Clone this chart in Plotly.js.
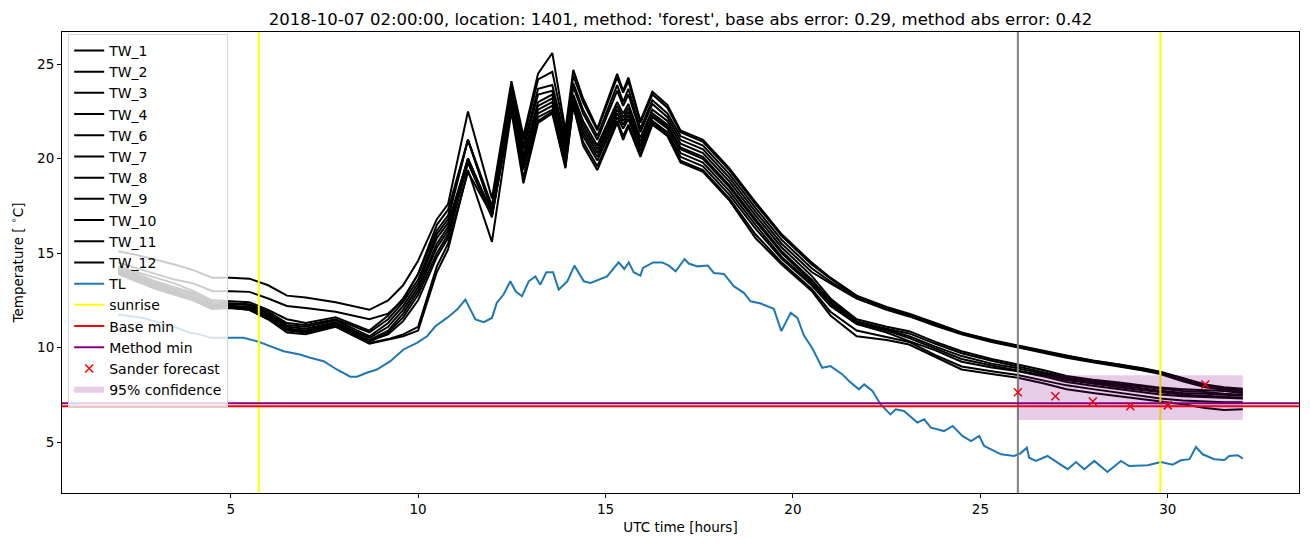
<!DOCTYPE html>
<html>
<head>
<meta charset="utf-8">
<script src="https://cdn.plot.ly/plotly-3.0.1.min.js"></script>
<style>
  body { margin: 0; background: #fff; }
  #myPlot { width: 1310px; height: 547px; }
</style>
</head>
<body>
<div id="myPlot"></div>
<script>
// time axis of the water temperature loggers (hours UTC from 2018-10-07 00:00)
const twTime = [2, 2.5, 3, 3.5, 4, 4.5, 5, 5.5, 6, 6.5, 7, 7.8, 8.7, 9.2, 9.6, 10, 10.5, 10.8, 11.33,
  11.97, 12.49, 12.81, 13.2, 13.58, 13.93, 14.14, 14.4, 14.78, 15.31, 15.47, 15.61, 15.93, 16.25, 16.65, 17.0, 17.6, 18.3, 19.0, 19.7, 20.5,
  21.0, 21.7, 22.5, 23.1, 23.8, 24.5, 25.3, 26.0, 26.7, 27.3, 28.0, 28.7, 29.3, 29.8, 30.4, 31.0, 31.5, 32.0];

const twNames = ["TW_1", "TW_2", "TW_3", "TW_4", "TW_6", "TW_7", "TW_8", "TW_9", "TW_10", "TW_11", "TW_12"];

const tw1 = [15.1, 14.9, 14.65, 14.4, 14.1, 13.7, 13.7, 13.65, 13.3, 12.75, 12.65, 12.4, 12.0, 12.5, 13.3, 14.6, 16.8, 17.6, 22.5,
  17.9, 24.1, 21.2, 24.5, 25.6, 21.5, 24.7, 23.2, 21.6, 24.5, 23.6, 24.3, 22.0, 23.55, 22.85, 21.5, 21.0, 19.5, 17.7, 16.0, 14.5,
  13.7, 12.75, 12.15, 11.8, 11.3, 10.8, 10.4, 10.1, 9.8, 9.58, 9.32, 9.12, 8.92, 8.72, 8.4, 8.05, 7.9, 7.82];
const tw2 = [14.5, 14.2, 13.9, 13.6, 13.4, 13.0, 12.98, 12.95, 12.6, 12.2, 12.1, 11.9, 11.5, 11.8, 12.5, 13.9, 16.5, 17.3, 21.0,
  17.5, 23.9, 21.0, 24.2, 24.6, 21.3, 24.4, 23.0, 21.5, 24.3, 23.5, 24.1, 21.9, 23.4, 22.7, 21.4, 20.9, 19.4, 17.6, 15.9, 14.4,
  13.65, 12.7, 12.1, 11.75, 11.25, 10.78, 10.38, 10.07, 9.77, 9.55, 9.3, 9.1, 8.9, 8.7, 8.38, 8.0, 7.85, 7.75];
const tw3 = [14.3, 14.0, 13.7, 13.4, 13.0, 12.5, 12.45, 12.4, 12.0, 11.5, 11.3, 11.6, 10.9, 11.7, 12.6, 13.9, 16.2, 17.0, 21.0,
  17.3, 23.6, 20.7, 23.7, 23.9, 21.0, 24.0, 22.6, 21.2, 23.9, 23.0, 23.7, 21.6, 23.1, 22.4, 21.2, 20.7, 19.2, 17.4, 15.7, 14.2,
  13.5, 12.65, 12.05, 11.7, 11.2, 10.74, 10.34, 10.03, 9.74, 9.5, 9.26, 9.05, 8.85, 8.65, 8.3, 7.95, 7.8, 7.68];
const tw4 = [14.2, 13.9, 13.5, 13.2, 12.9, 12.4, 12.35, 12.3, 11.9, 11.3, 11.2, 11.5, 10.8, 11.5, 12.4, 13.6, 16.0, 16.8, 21.0,
  17.2, 23.4, 20.5, 23.4, 23.6, 20.8, 23.8, 22.4, 21.0, 23.6, 22.8, 23.4, 21.4, 22.9, 22.2, 21.0, 20.5, 19.0, 17.2, 15.5, 14.0,
  13.4, 12.6, 12.0, 11.65, 11.15, 10.7, 10.3, 10.0, 9.7, 9.46, 9.22, 9.0, 8.8, 8.6, 8.22, 7.9, 7.75, 7.6];
const tw6 = [14.1, 13.8, 13.4, 13.1, 12.8, 12.3, 12.3, 12.25, 11.8, 11.2, 11.1, 11.45, 10.6, 11.3, 12.2, 13.4, 15.8, 16.6, 20.0,
  17.1, 23.2, 20.2, 23.0, 23.4, 20.5, 23.4, 22.0, 20.7, 23.0, 22.4, 22.9, 21.1, 22.6, 22.0, 20.8, 20.3, 18.8, 17.0, 15.3, 13.8,
  12.6, 11.5, 11.1, 10.87, 10.3, 9.81, 9.4, 9.1, 8.8, 8.5, 8.3, 8.15, 8.0, 7.88, 7.8, 7.75, 7.7, 7.6];
const tw7 = [14.0, 13.7, 13.3, 13.0, 12.7, 12.2, 12.2, 12.15, 11.7, 11.1, 11.0, 11.35, 10.5, 11.1, 12.0, 13.2, 15.5, 16.4, 20.0,
  17.0, 23.0, 20.0, 22.8, 23.2, 20.3, 23.2, 21.8, 20.5, 22.8, 22.2, 22.7, 20.9, 22.4, 21.8, 20.6, 20.1, 18.6, 16.8, 15.1, 13.6,
  12.5, 11.4, 11.0, 10.75, 10.2, 9.7, 9.3, 9.0, 8.7, 8.42, 8.22, 8.07, 7.92, 7.8, 7.7, 7.65, 7.55, 7.5];
const tw8 = [13.95, 13.6, 13.2, 12.9, 12.6, 12.1, 12.15, 12.1, 11.6, 11.0, 10.9, 11.3, 10.4, 10.9, 11.8, 13.0, 15.3, 16.2, 20.0,
  17.1, 22.9, 19.8, 22.6, 23.0, 20.1, 23.0, 21.6, 20.3, 22.6, 22.0, 22.5, 20.7, 22.3, 21.7, 20.5, 20.0, 18.5, 16.7, 15.0, 13.5,
  12.4, 11.35, 10.95, 10.6, 10.05, 9.55, 9.15, 8.9, 8.6, 8.35, 8.15, 8.0, 7.85, 7.72, 7.6, 7.55, 7.5, 7.45];
const tw9 = [13.9, 13.5, 13.1, 12.8, 12.5, 12.05, 12.1, 12.0, 11.5, 10.9, 10.8, 11.2, 10.3, 10.8, 11.6, 12.8, 15.0, 16.0, 19.8,
  17.0, 22.8, 19.6, 22.4, 22.8, 20.0, 23.0, 21.4, 20.1, 22.4, 21.8, 22.3, 20.6, 22.2, 21.6, 20.3, 19.8, 18.3, 16.5, 14.8, 13.4,
  12.3, 11.3, 10.9, 10.5, 9.95, 9.4, 9.05, 8.8, 8.52, 8.28, 8.07, 7.9, 7.75, 7.62, 7.5, 7.45, 7.4, 7.35];
const tw10 = [14.1, 13.7, 13.3, 13.0, 12.6, 12.2, 12.2, 12.1, 11.6, 11.0, 10.85, 11.25, 10.35, 10.7, 11.4, 12.5, 14.8, 15.8, 19.8,
  16.9, 22.7, 19.4, 22.2, 22.6, 19.8, 22.9, 21.2, 19.9, 22.2, 21.6, 22.1, 20.4, 22.0, 21.4, 20.1, 19.6, 18.1, 16.3, 14.7, 13.3,
  12.2, 11.25, 10.8, 10.34, 9.85, 9.25, 8.95, 8.75, 8.47, 8.18, 7.98, 7.8, 7.65, 7.52, 7.42, 7.38, 7.35, 7.3];
const tw11 = [14.0, 13.6, 13.2, 12.9, 12.6, 12.2, 12.2, 12.0, 11.6, 11.0, 10.8, 11.15, 10.25, 10.45, 10.7, 11.1, 14.3, 15.5, 19.3,
  17.0, 22.6, 19.0, 22.0, 22.5, 19.6, 22.8, 20.9, 19.6, 22.0, 21.2, 21.8, 20.2, 21.9, 21.3, 19.9, 19.4, 17.9, 16.0, 14.5, 13.1,
  11.9, 10.9, 10.55, 10.3, 9.6, 9.0, 8.75, 8.55, 8.25, 8.0, 7.8, 7.6, 7.42, 7.3, 7.2, 7.15, 7.1, 7.1];
const tw12 = [13.9, 13.5, 13.2, 12.9, 12.5, 12.1, 12.1, 12.0, 11.5, 10.8, 10.7, 11.1, 10.2, 10.4, 10.6, 10.9, 14.0, 15.2, 19.4,
  15.6, 22.5, 18.7, 21.9, 22.4, 19.5, 22.8, 20.7, 19.4, 21.9, 21.0, 21.7, 20.1, 21.8, 21.2, 19.8, 19.3, 17.8, 15.8, 14.4, 13.0,
  11.7, 10.6, 10.4, 10.16, 9.5, 8.84, 8.6, 8.4, 8.1, 7.79, 7.6, 7.43, 7.3, 7.17, 7.0, 6.8, 6.7, 6.73];
const twValues = [tw1, tw2, tw3, tw4, tw6, tw7, tw8, tw9, tw10, tw11, tw12];

// air temperature (TL)
const tlTime = [2.0, 2.67, 3.12, 3.56, 3.92, 4.18, 4.45, 4.99, 5.34, 5.70, 6.05, 6.41, 6.85, 7.12, 7.48, 7.83, 8.19, 8.37, 8.63, 8.9,
  9.26, 9.61, 9.97, 10.24, 10.46, 10.77, 11.04, 11.26, 11.53, 11.75, 11.97, 12.1, 12.28, 12.46, 12.6, 12.77, 12.95, 13.13, 13.26, 13.42,
  13.6, 13.75, 13.98, 14.17, 14.42, 14.6, 15.04, 15.35, 15.5, 15.62, 15.75, 15.93, 16.0, 16.27, 16.51, 16.69, 16.87, 17.11, 17.22, 17.45,
  17.73, 17.89, 18.16, 18.42, 18.69, 18.87, 19.14, 19.49, 19.69, 19.94, 20.12, 20.29, 20.52, 20.78, 21.0, 21.32, 21.5, 21.76, 21.9, 22.12,
  22.34, 22.6, 22.74, 22.96, 23.32, 23.5, 23.68, 24.03, 24.26, 24.52, 24.75, 24.97, 25.1, 25.55, 25.9, 26.07, 26.24, 26.3, 26.48, 26.79,
  27.06, 27.33, 27.55, 27.77, 28.04, 28.39, 28.75, 28.97, 29.46, 29.82, 30.13, 30.35, 30.58, 30.75, 30.93, 31.24, 31.51, 31.64, 31.87, 32.0];
const tlTemp = [11.75, 11.57, 11.31, 11.05, 10.78, 10.7, 10.52, 10.52, 10.52, 10.34, 10.07, 9.81, 9.63, 9.46, 9.28, 8.84, 8.46, 8.46, 8.67, 8.84,
  9.28, 9.9, 10.25, 10.6, 11.13, 11.57, 12.01, 12.54, 11.49, 11.35, 11.57, 12.37, 12.81, 13.51, 12.98, 12.72, 13.51, 13.77, 13.33, 13.99,
  13.99, 13.07, 13.51, 14.34, 13.51, 13.42, 13.77, 14.51, 14.16, 14.51, 13.99, 13.81, 14.22, 14.51, 14.51, 14.34, 14.04, 14.69, 14.45, 14.3,
  14.34, 13.95, 13.9, 13.25, 12.9, 12.45, 12.33, 12.05, 10.87, 11.84, 11.57, 10.65, 9.95, 8.93, 9.02, 8.58, 8.22, 7.79, 8.05, 7.7,
  6.99, 6.46, 6.73, 6.64, 6.03, 6.2, 5.76, 5.58, 5.85, 5.32, 5.05, 5.32, 4.79, 4.35, 4.26, 4.4, 4.7, 4.17, 4.0, 4.26,
  3.91, 3.56, 3.94, 3.56, 4.0, 3.41, 4.0, 3.73, 3.77, 3.94, 3.8, 4.03, 4.09, 4.74, 4.35, 4.09, 4.05, 4.26, 4.3, 4.12];

const sunriseTimes = [5.75, 29.8];
const forecastStart = 26;
const baseMin = 6.9;
const methodMin = 7.05;

const forecastTime = [26, 27, 28, 29, 30, 31];
const forecastTemp = [7.63, 7.42, 7.15, 6.89, 6.94, 8.05];
const confTime = [26, 32];
const confLow = [6.16, 6.16];
const confHigh = [8.53, 8.53];

// axis limits like matplotlib autoscale (5% margin)
let allY = tlTemp.slice();
twValues.forEach(function (v) { allY = allY.concat(v); });
const yMin = Math.min.apply(null, allY), yMax = Math.max.apply(null, allY);
const yPad = 0.05 * (yMax - yMin);
const xPad = 0.05 * (twTime[twTime.length - 1] - twTime[0]);
const xRange = [twTime[0] - xPad, twTime[twTime.length - 1] + xPad];
const yRange = [yMin - yPad, yMax + yPad];

const data = [];
for (let i = 0; i < twNames.length; i++) {
  data.push({x: twTime, y: twValues[i], mode: "lines", name: twNames[i], line: {color: "black", width: 2}});
}
data.push({x: tlTime, y: tlTemp, mode: "lines", name: "TL", line: {color: "#1f77b4", width: 2}});

// vertical lines reach past the fixed y range and get clipped
let sx = [], sy = [];
sunriseTimes.forEach(function (t) { sx.push(t, t, null); sy.push(yRange[0] - 10, yRange[1] + 10, null); });
data.push({x: sx, y: sy, mode: "lines", name: "sunrise", line: {color: "#ffff00", width: 2}});
data.push({x: [forecastStart, forecastStart], y: [yRange[0] - 10, yRange[1] + 10], mode: "lines",
  name: "now", showlegend: false, line: {color: "grey", width: 2}});
data.push({x: [xRange[0] - 10, xRange[1] + 10], y: [baseMin, baseMin], mode: "lines", name: "Base min",
  line: {color: "red", width: 2}});
data.push({x: [xRange[0] - 10, xRange[1] + 10], y: [methodMin, methodMin], mode: "lines", name: "Method min",
  line: {color: "purple", width: 2}});
data.push({x: forecastTime, y: forecastTemp, mode: "markers", name: "Sander forecast",
  marker: {symbol: "x-thin", size: 8, line: {color: "red", width: 1.5}, color: "red"}});
data.push({x: confTime.concat(confTime.slice().reverse()), y: confLow.concat(confHigh.slice().reverse()),
  mode: "none", fill: "toself", fillcolor: "rgba(128,0,128,0.2)", name: "95% confidence"});

const axisStyle = {
  showline: true, mirror: true, linecolor: "black", linewidth: 1,
  ticks: "outside", ticklen: 4, tickwidth: 1, tickcolor: "black",
  showgrid: false, zeroline: false,
  tickfont: {size: 13.5, color: "black"}
};

const layout = {
  width: 1310, height: 547,
  margin: {l: 62, r: 11, t: 32, b: 54},
  font: {family: "DejaVu Sans", color: "black"},
  paper_bgcolor: "white", plot_bgcolor: "white",
  title: {text: "2018-10-07 02:00:00, location: 1401, method: 'forest', base abs error: 0.29, method abs error: 0.42",
    font: {size: 16.5}, x: 0.5, xref: "paper", xanchor: "center", y: 0.965, yanchor: "middle"},
  xaxis: Object.assign({}, axisStyle, {range: xRange, tickvals: [5, 10, 15, 20, 25, 30],
    title: {text: "UTC time [hours]", font: {size: 13.5}, standoff: 6}}),
  yaxis: Object.assign({}, axisStyle, {range: yRange, tickvals: [5, 10, 15, 20, 25],
    title: {text: "Temperature [ <sup>∘</sup>C]", font: {size: 13.5}, standoff: 10}}),
  showlegend: true,
  legend: {x: 0.005, y: 0.996, xanchor: "left", yanchor: "top",
    bgcolor: "rgba(255,255,255,0.8)", bordercolor: "#d6d6d6", borderwidth: 1,
    font: {size: 14}}
};

Plotly.newPlot("myPlot", data, layout, {displayModeBar: false, staticPlot: true});
</script>
</body>
</html>
